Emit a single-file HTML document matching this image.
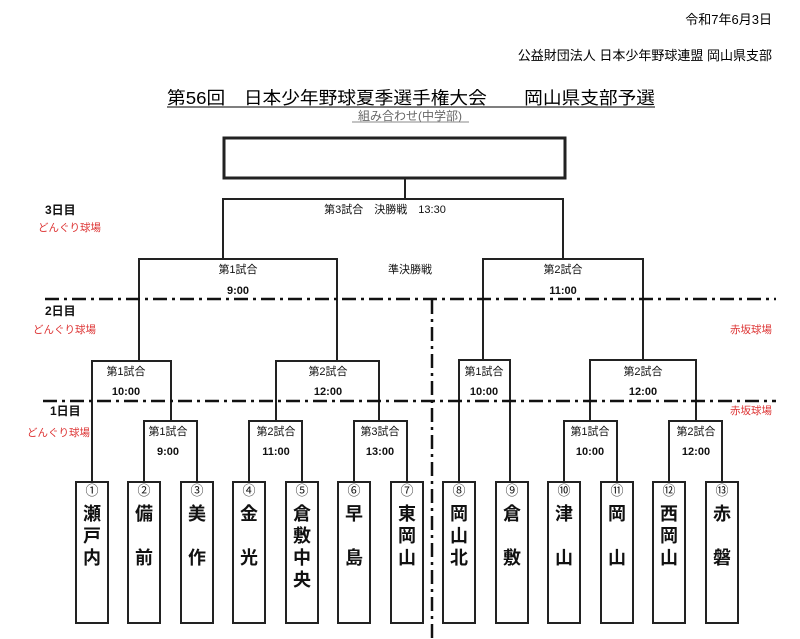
<!DOCTYPE html>
<html><head><meta charset="utf-8"><style>
html,body{margin:0;padding:0;background:#fff;}
svg{display:block;}
text{font-family:"Liberation Sans","Noto Sans CJK JP",sans-serif;}
</style></head><body>
<svg width="800" height="639" viewBox="0 0 800 639" xmlns="http://www.w3.org/2000/svg">
<text x="772" y="24" font-size="13" text-anchor="end">令和7年6月3日</text>
<text x="772" y="60" font-size="13" text-anchor="end">公益財団法人  日本少年野球連盟  岡山県支部</text>
<text x="167" y="104" font-size="17.5" textLength="488" lengthAdjust="spacingAndGlyphs">第56回　日本少年野球夏季選手権大会　　岡山県支部予選</text>
<line x1="167" y1="107" x2="655" y2="107" stroke="#333" stroke-width="1.2"/>
<text x="410" y="120" font-size="12" fill="#666" text-anchor="middle" font-family="Liberation Serif,'Noto Serif CJK SC',serif">組み合わせ(中学部)</text>
<line x1="352" y1="122" x2="469" y2="122" stroke="#888" stroke-width="1"/>

<g fill="none" stroke="#222" stroke-width="2">
<rect x="224" y="138" width="341" height="40" stroke-width="3"/>
<polyline points="405,178 405,199"/>
<polyline points="223,259 223,199 563,199 563,259"/>
<polyline points="139,361 139,259 337,259 337,361"/>
<polyline points="483,360 483,259 643,259 643,360"/>
<polyline points="92,482 92,361 171,361 171,421"/>
<polyline points="276,421 276,361 379,361 379,421"/>
<polyline points="459,482 459,360 510,360 510,482"/>
<polyline points="590,421 590,360 696,360 696,421"/>
<polyline points="144,482 144,421 197,421 197,482"/>
<polyline points="249,482 249,421 302,421 302,482"/>
<polyline points="354,482 354,421 407,421 407,482"/>
<polyline points="564,482 564,421 617,421 617,482"/>
<polyline points="669,482 669,421 722,421 722,482"/>
</g>
<g stroke="#111" stroke-width="2.5" stroke-dasharray="14,5,3,5" fill="none">
<line x1="45" y1="299" x2="776" y2="299"/>
<line x1="43" y1="401" x2="776" y2="401"/>
<line x1="432" y1="300" x2="432" y2="639"/>
</g>

<g font-size="11" text-anchor="middle" fill="#111">
<text x="385" y="213">第3試合　決勝戦　13:30</text>
<text x="410" y="273">準決勝戦</text>
<text x="238" y="273">第1試合</text><text x="238" y="294" font-weight="bold">9:00</text>
<text x="563" y="273">第2試合</text><text x="563" y="294" font-weight="bold">11:00</text>
<text x="126" y="375">第1試合</text><text x="126" y="395" font-weight="bold">10:00</text>
<text x="328" y="375">第2試合</text><text x="328" y="395" font-weight="bold">12:00</text>
<text x="484" y="375">第1試合</text><text x="484" y="395" font-weight="bold">10:00</text>
<text x="643" y="375">第2試合</text><text x="643" y="395" font-weight="bold">12:00</text>
<text x="168" y="435">第1試合</text><text x="168" y="455" font-weight="bold">9:00</text>
<text x="276" y="435">第2試合</text><text x="276" y="455" font-weight="bold">11:00</text>
<text x="380" y="435">第3試合</text><text x="380" y="455" font-weight="bold">13:00</text>
<text x="590" y="435">第1試合</text><text x="590" y="455" font-weight="bold">10:00</text>
<text x="696" y="435">第2試合</text><text x="696" y="455" font-weight="bold">12:00</text>
</g>
<g font-size="12" font-weight="bold" fill="#111">
<text x="45" y="214">3日目</text><text x="45" y="315">2日目</text><text x="50" y="415">1日目</text>
</g>
<g font-size="10.5" fill="#d33">
<text x="38" y="231">どんぐり球場</text><text x="33" y="333">どんぐり球場</text><text x="27" y="436">どんぐり球場</text>
<text x="730" y="333">赤坂球場</text><text x="730" y="414">赤坂球場</text>
</g>

<g fill="#fff" stroke="#222" stroke-width="2">
<rect x="76" y="482" width="32" height="141"/><rect x="128" y="482" width="32" height="141"/>
<rect x="181" y="482" width="32" height="141"/><rect x="233" y="482" width="32" height="141"/>
<rect x="286" y="482" width="32" height="141"/><rect x="338" y="482" width="32" height="141"/>
<rect x="391" y="482" width="32" height="141"/><rect x="443" y="482" width="32" height="141"/>
<rect x="496" y="482" width="32" height="141"/><rect x="548" y="482" width="32" height="141"/>
<rect x="601" y="482" width="32" height="141"/><rect x="653" y="482" width="32" height="141"/>
<rect x="706" y="482" width="32" height="141"/>
</g>
<g font-size="13" text-anchor="middle" fill="#111">
<text x="92" y="495">①</text><text x="144" y="495">②</text><text x="197" y="495">③</text>
<text x="249" y="495">④</text><text x="302" y="495">⑤</text><text x="354" y="495">⑥</text>
<text x="407" y="495">⑦</text><text x="459" y="495">⑧</text><text x="512" y="495">⑨</text>
<text x="564" y="495">⑩</text><text x="617" y="495">⑪</text><text x="669" y="495">⑫</text>
<text x="722" y="495">⑬</text>
</g>
<g font-size="18" font-weight="bold" text-anchor="middle" fill="#111">
<text x="92" y="520">瀬</text><text x="92" y="542">戸</text><text x="92" y="564">内</text>
<text x="144" y="520">備</text><text x="144" y="564">前</text>
<text x="197" y="520">美</text><text x="197" y="564">作</text>
<text x="249" y="520">金</text><text x="249" y="564">光</text>
<text x="302" y="520">倉</text><text x="302" y="542">敷</text><text x="302" y="564">中</text><text x="302" y="586">央</text>
<text x="354" y="520">早</text><text x="354" y="564">島</text>
<text x="407" y="520">東</text><text x="407" y="542">岡</text><text x="407" y="564">山</text>
<text x="459" y="520">岡</text><text x="459" y="542">山</text><text x="459" y="564">北</text>
<text x="512" y="520">倉</text><text x="512" y="564">敷</text>
<text x="564" y="520">津</text><text x="564" y="564">山</text>
<text x="617" y="520">岡</text><text x="617" y="564">山</text>
<text x="669" y="520">西</text><text x="669" y="542">岡</text><text x="669" y="564">山</text>
<text x="722" y="520">赤</text><text x="722" y="564">磐</text>
</g>
</svg>
</body></html>
